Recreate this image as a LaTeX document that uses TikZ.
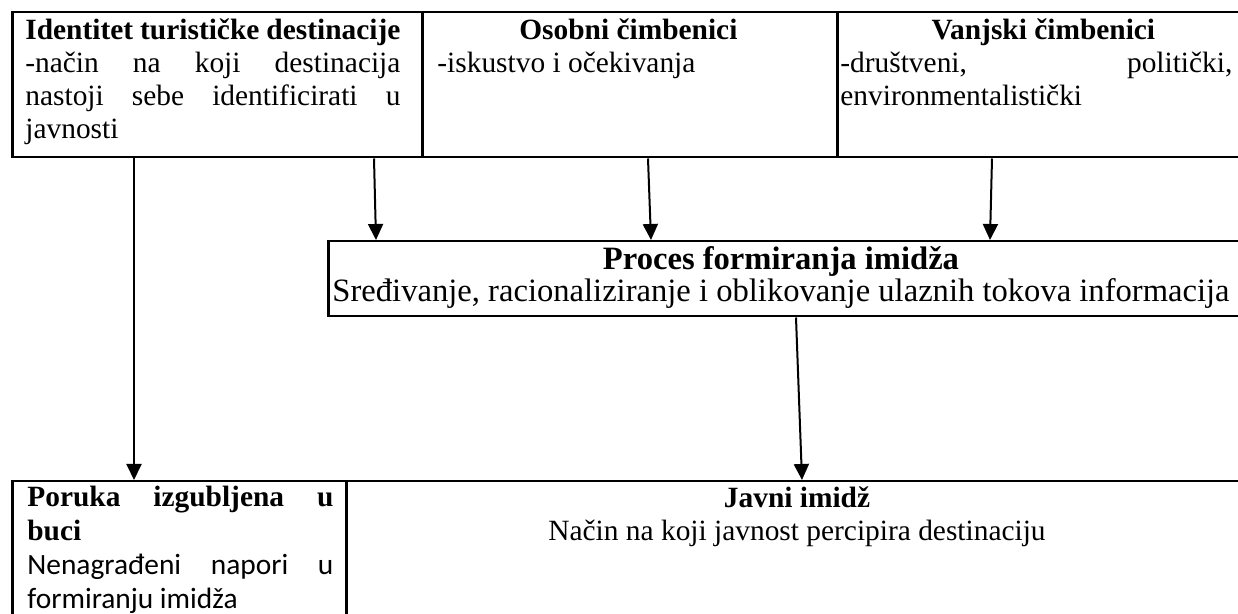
\documentclass[tikz,border=0pt]{standalone}
\usepackage{fontspec}
\setmainfont{Liberation Serif}
\newfontfamily\calibri{Carlito}
\usepackage{tikz}
\usetikzlibrary{positioning, calc}
\usetikzlibrary{arrows.meta}
\hyphenpenalty=10000
\exhyphenpenalty=10000
\newcommand{\tstrut}{\rule{0pt}{14pt}}

\begin{document}
\begin{tikzpicture}[x=0.5pt, y=-0.5pt, box/.style={draw, line width=1.25pt, inner sep=0pt, anchor=north west}, txt/.style={inner sep=0pt, anchor=north west, align=justify, font=\fontsize{14.7}{16.5}\selectfont}, mid/.style={inner sep=0pt, anchor=north, align=center}, arr/.style={line width=1pt, -{Triangle[width=7.5pt, length=8pt]}}]
\useasboundingbox (0,0) rectangle (1238,614);
% boxes
\node[box, minimum width=205pt, minimum height=72.5pt] (ident) at (11,11) {};
\node[box, minimum width=207.5pt, minimum height=72.5pt] (osobni) at (421,11) {};
\node[box, minimum width=210pt, minimum height=72.5pt] (vanjski) at (836,11) {};
\node[box, minimum width=464.5pt, minimum height=37.5pt] (proces) at (327,240) {};
\node[box, minimum width=167pt, minimum height=75pt] (poruka) at (11,480) {};
\node[box, minimum width=455.5pt, minimum height=75pt] (javni) at (345,480) {};
% texts
\node[txt, text width=187.5pt] (identtxt) at ([xshift=7pt]ident.north west) {\tstrut\textbf{Identitet turističke destinacije}\par -način na koji destinacija\linebreak nastoji sebe identificirati u\linebreak javnosti};
\node[txt, text width=191pt] (osobnitxt) at ([xshift=8pt]osobni.north west) {{\centering\tstrut\bfseries Osobni čimbenici\par}-iskustvo i očekivanja};
\node[txt, text width=196pt] (vanjskitxt) at ([xshift=2pt]vanjski.north west) {{\centering\tstrut\hspace*{7pt}\bfseries Vanjski čimbenici\par}-društveni, politički,\linebreak environmentalistički};
\node[mid, font=\fontsize{16.3}{16}\selectfont] (procestxt) at (781,237) {\rule{0pt}{16pt}\textbf{Proces formiranja imidža}\\ Sređivanje, racionaliziranje i oblikovanje ulaznih tokova informacija};
\node[txt, text width=153pt, font=\fontsize{14.7}{17}\selectfont] (porukatxt) at ([xshift=8pt, yshift=1pt]poruka.north west) {\tstrut\textbf{Poruka izgubljena u\linebreak buci}\par {\calibri Nenagrađeni napori u\linebreak formiranju imidža}};
\node[mid, font=\fontsize{14.7}{16.5}\selectfont] (javnitxt) at (797,479) {\tstrut\textbf{Javni imidž}\\ Način na koji javnost percipira destinaciju};
% arrows
\draw[arr] ([xshift=61.5pt]ident.south west) -- ([xshift=61.5pt]poruka.north west);
\draw[arr] ([xshift=181.5pt]ident.south west) -- ([xshift=24.5pt]proces.north west);
\draw[arr] ([xshift=113.5pt]osobni.south west) -- ([xshift=162pt]proces.north west);
\draw[arr] ([xshift=78pt]vanjski.south west) -- ([xshift=331.5pt]proces.north west);
\draw[arr] ([xshift=234.5pt]proces.south west) -- ([xshift=228.5pt]javni.north west);
\end{tikzpicture}
\end{document}
